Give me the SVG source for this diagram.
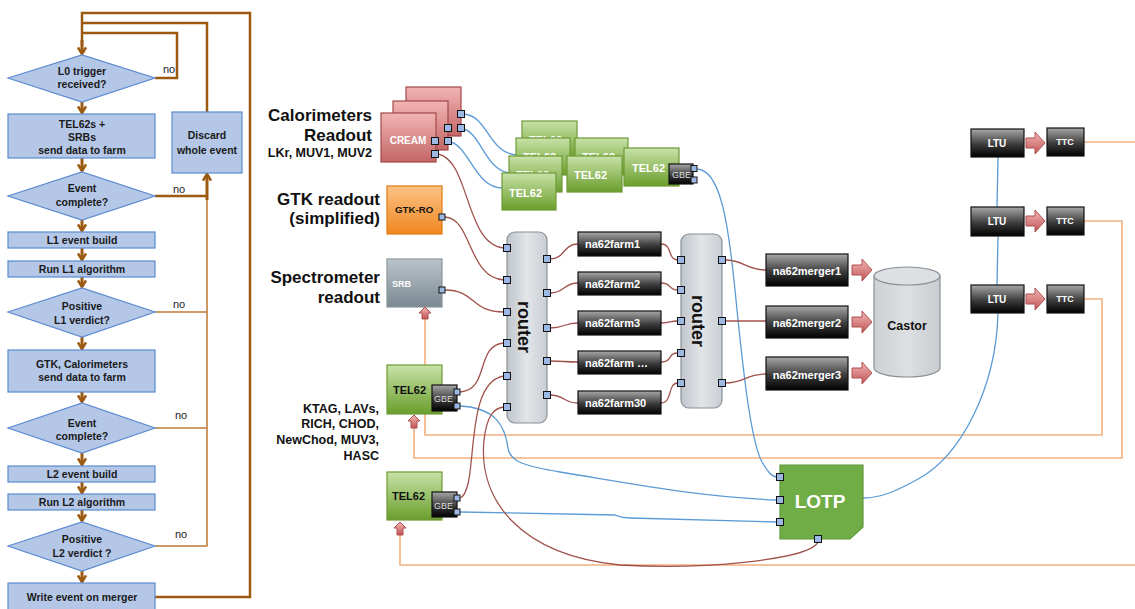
<svg xmlns="http://www.w3.org/2000/svg" width="1135" height="609" viewBox="0 0 1135 609">
<defs>
<style>
.fc{fill:#B4C7E7;stroke:#5B8BD0;stroke-width:1.2}
.ft{font-family:"Liberation Sans",Arial,sans-serif;font-weight:bold;font-size:10.5px;fill:#1a1a1a;text-anchor:middle}
.no{font-family:"Liberation Sans",Arial,sans-serif;font-size:11px;fill:#222}
.fl{fill:none;stroke:#9C5A10;stroke-width:2.5}
.fl2{fill:none;stroke:#BD7A35;stroke-width:1.5}
.fa{fill:none;stroke:#9C5A10;stroke-width:3;marker-end:url(#ah)}
.pt{fill:#9DB9E3;stroke:#111;stroke-width:1}
.rl{fill:none;stroke:#A0524C;stroke-width:1.3}
.bl{fill:none;stroke:#5B9BD5;stroke-width:1.3}
.ol{fill:none;stroke:#F2B07E;stroke-width:1.6}
.lbl{font-family:"Liberation Sans",Arial,sans-serif;font-weight:bold;font-size:17px;fill:#111;text-anchor:end}
.lbs{font-family:"Liberation Sans",Arial,sans-serif;font-weight:bold;font-size:12.5px;fill:#111;text-anchor:end}
.dk{fill:url(#gDark);stroke:#111;stroke-width:1.2}
.gr{fill:url(#gGreen);stroke:#6E9A35;stroke-width:1.2}
.cr{fill:url(#gRed);stroke:#A04848;stroke-width:1.2}
.wt{font-family:"Liberation Sans",Arial,sans-serif;font-weight:bold;fill:#fff}
.bt{font-family:"Liberation Sans",Arial,sans-serif;font-weight:bold;fill:#111}
.fat{fill:url(#gArrow);stroke:#B05050;stroke-width:1}
.rt{fill:url(#gRouter);stroke:#8A9096;stroke-width:1.2}
</style>
<linearGradient id="gDark" x1="0" y1="0" x2="0" y2="1"><stop offset="0" stop-color="#A8A8A8"/><stop offset="0.55" stop-color="#3C3C3C"/><stop offset="1" stop-color="#000"/></linearGradient>
<linearGradient id="gGreen" x1="0" y1="0" x2="0" y2="1"><stop offset="0" stop-color="#C8E2A8"/><stop offset="1" stop-color="#6A9E2C"/></linearGradient>
<linearGradient id="gRed" x1="0" y1="0" x2="0" y2="1"><stop offset="0" stop-color="#F2B4B4"/><stop offset="1" stop-color="#C46666"/></linearGradient>
<linearGradient id="gSrb" x1="0" y1="0" x2="0" y2="1"><stop offset="0" stop-color="#BAC4CA"/><stop offset="1" stop-color="#7C8992"/></linearGradient>
<linearGradient id="gGtk" x1="0" y1="0" x2="0" y2="1"><stop offset="0" stop-color="#FCC385"/><stop offset="1" stop-color="#F08620"/></linearGradient>
<linearGradient id="gRouter" x1="0" y1="0" x2="1" y2="0"><stop offset="0" stop-color="#BFC6CC"/><stop offset="0.5" stop-color="#E2E5E8"/><stop offset="1" stop-color="#C9CED3"/></linearGradient>
<linearGradient id="gArrow" x1="0" y1="0" x2="0" y2="1"><stop offset="0" stop-color="#F4B8B8"/><stop offset="1" stop-color="#C05555"/></linearGradient>
<linearGradient id="gCyl" x1="0" y1="0" x2="1" y2="0"><stop offset="0" stop-color="#CDD1D4"/><stop offset="0.5" stop-color="#DDE0E2"/><stop offset="1" stop-color="#C8CCD0"/></linearGradient>
<marker id="ah" viewBox="0 0 10 10" refX="8" refY="5" markerWidth="10" markerHeight="10" markerUnits="userSpaceOnUse" orient="auto"><path d="M1.5,1 L8,5 L1.5,9" fill="none" stroke="#9C5A10" stroke-width="2.5"/></marker>
</defs>
<rect width="1135" height="609" fill="#fff"/>

<!-- Flowchart connectors -->
<g id="flow-connectors">
<path class="fl" d="M155 597 H250 V13 H82 V45"/>
<path class="fa" d="M82 40 V54"/>
<path class="fl" d="M207 112 V23 H82"/>
<path class="fl" d="M155 78 H177 V33 H82"/>
<path class="fl" d="M155 196 H207"/>
<path class="fa" d="M207 200 V174"/>
<path class="fl2" d="M207 200 V546 H155"/>
<path class="fl2" d="M155 312 H207"/>
<path class="fl2" d="M155 428 H207"/>
<path class="fa" d="M82 102 V113"/>
<path class="fa" d="M82 158 V171"/>
<path class="fa" d="M82 220 V231"/>
<path class="fa" d="M82 248 V260"/>
<path class="fa" d="M82 277 V287"/>
<path class="fa" d="M82 337 V349"/>
<path class="fa" d="M82 392 V402"/>
<path class="fa" d="M82 453 V465"/>
<path class="fa" d="M82 482 V493"/>
<path class="fa" d="M82 510 V521"/>
<path class="fa" d="M82 571 V582"/>
<text class="no" x="163" y="73">no</text>
<text class="no" x="173" y="193">no</text>
<text class="no" x="173" y="308">no</text>
<text class="no" x="175" y="419">no</text>
<text class="no" x="175" y="538">no</text>
</g>

<g id="fc-l0"><polygon class="fc" points="8,78 82,55 155,78 82,102"/><text class="ft" x="82" y="75">L0 trigger</text><text class="ft" x="82" y="88">received?</text></g>
<g id="fc-send1"><rect class="fc" x="8" y="114" width="147" height="44"/><text class="ft" x="82" y="128">TEL62s +</text><text class="ft" x="82" y="141">SRBs</text><text class="ft" x="82" y="154">send data to farm</text></g>
<g id="fc-discard"><rect class="fc" x="172" y="112" width="70" height="61"/><text class="ft" x="207" y="139">Discard</text><text class="ft" x="207" y="154">whole event</text></g>
<g id="fc-complete1"><polygon class="fc" points="8,196 82,172 155,196 82,220"/><text class="ft" x="82" y="192">Event</text><text class="ft" x="82" y="206">complete?</text></g>
<g id="fc-l1build"><rect class="fc" x="8" y="232" width="147" height="16"/><text class="ft" x="82" y="244">L1 event build</text></g>
<g id="fc-l1run"><rect class="fc" x="8" y="261" width="147" height="16"/><text class="ft" x="82" y="273">Run L1 algorithm</text></g>
<g id="fc-l1verdict"><polygon class="fc" points="8,312 82,288 155,312 82,337"/><text class="ft" x="82" y="310">Positive</text><text class="ft" x="82" y="324">L1 verdict?</text></g>
<g id="fc-send2"><rect class="fc" x="8" y="350" width="147" height="42"/><text class="ft" x="82" y="368">GTK, Calorimeters</text><text class="ft" x="82" y="381">send data to farm</text></g>
<g id="fc-complete2"><polygon class="fc" points="8,428 82,403 155,428 82,453"/><text class="ft" x="82" y="427">Event</text><text class="ft" x="82" y="440">complete?</text></g>
<g id="fc-l2build"><rect class="fc" x="8" y="466" width="147" height="16"/><text class="ft" x="82" y="478">L2 event build</text></g>
<g id="fc-l2run"><rect class="fc" x="8" y="494" width="147" height="16"/><text class="ft" x="82" y="506">Run L2 algorithm</text></g>
<g id="fc-l2verdict"><polygon class="fc" points="8,546 82,522 155,546 82,571"/><text class="ft" x="82" y="543">Positive</text><text class="ft" x="82" y="557">L2 verdict ?</text></g>
<g id="fc-write"><rect class="fc" x="8" y="583" width="147" height="30"/><text class="ft" x="82" y="601">Write event on merger</text></g>

<!-- Labels -->
<g id="labels">
<text class="lbl" x="372" y="121">Calorimeters</text>
<text class="lbl" x="372" y="141">Readout</text>
<text class="lbs" x="372" y="157">LKr, MUV1, MUV2</text>
<text class="lbl" x="380" y="205">GTK readout</text>
<text class="lbl" x="380" y="224">(simplified)</text>
<text class="lbl" x="380" y="283">Spectrometer</text>
<text class="lbl" x="380" y="303">readout</text>
<text class="lbs" x="379" y="413">KTAG, LAVs,</text>
<text class="lbs" x="379" y="428">RICH, CHOD,</text>
<text class="lbs" x="379" y="444">NewChod, MUV3,</text>
<text class="lbs" x="379" y="460">HASC</text>
</g>

<!-- Connectors -->
<g id="connectors">
<path class="ol" d="M425 319 V435 H1102 V299 H1084"/>
<path class="ol" d="M414 428 V458 H1122 V221 H1084"/>
<path class="ol" d="M400 535 V565 H1135"/>
<path class="ol" d="M1084 142 H1135"/>
<path class="bl" d="M464 114 C488 116, 488 152, 516 155"/>
<path class="bl" d="M448 128 H461 C482 132, 484 170, 510 173"/>
<path class="bl" d="M435 141 H448 C470 145, 474 188, 503 188"/>
<path class="bl" d="M697 169 C720 170, 728 220, 735 290 C742 360, 750 440, 762 462 C768 472, 772 477, 777 477"/>
<path class="bl" d="M460 406 C495 408, 505 425, 508 448 C510 462, 525 466, 560 472 C640 485, 700 497, 777 500"/>
<path class="bl" d="M460 512 L615 515 C620 517, 622 518, 630 518 L777 522"/>
<path class="bl" d="M998 157 L997 207"/>
<path class="bl" d="M998 236 L997 285"/>
<path class="bl" d="M998 313 C996 390, 960 455, 920 478 C895 492, 880 498, 863 498"/>
<path class="rl" d="M438 154 C470 160, 465 245, 504 248"/>
<path class="rl" d="M445 217 C472 218, 468 278, 504 280"/>
<path class="rl" d="M445 290 C476 290, 470 312, 504 312"/>
<path class="rl" d="M460 392 C490 390, 475 345, 504 343"/>
<path class="rl" d="M460 498 C480 490, 462 382, 504 376"/>
<path class="rl" d="M818 542 C810 560, 700 570, 620 565 C520 555, 478 500, 484 440 C487 415, 494 408, 504 407"/>
<path class="rl" d="M550 259 C565 259, 563 244, 578 244"/>
<path class="rl" d="M550 293 C565 293, 563 283, 578 283"/>
<path class="rl" d="M550 328 C565 328, 563 323, 578 323"/>
<path class="rl" d="M550 361 C565 361, 563 362, 578 362"/>
<path class="rl" d="M550 395 C565 395, 563 403, 578 403"/>
<path class="rl" d="M661 244 C673 244, 667 260, 678 260"/>
<path class="rl" d="M661 283 C673 283, 667 290, 678 290"/>
<path class="rl" d="M661 323 C672 323, 668 321, 678 321"/>
<path class="rl" d="M661 362 C673 362, 667 353, 678 353"/>
<path class="rl" d="M661 403 C673 403, 667 383, 678 383"/>
<path class="rl" d="M725 260 C745 260, 745 270, 766 270"/>
<path class="rl" d="M725 321 H766"/>
<path class="rl" d="M725 383 C745 383, 745 374, 766 374"/>
</g>

<g id="cream">
<rect class="cr" x="406" y="87" width="55" height="49"/>
<rect class="cr" x="393" y="101" width="55" height="49"/>
<rect class="cr" x="381" y="113" width="55" height="49"/>
<text class="wt" x="408" y="144" font-size="10" text-anchor="middle">CREAM</text>
<rect class="pt" x="457.5" y="110.5" width="7" height="7"/>
<rect class="pt" x="457.5" y="124.5" width="7" height="7"/>
<rect class="pt" x="444.5" y="124.5" width="7" height="7"/>
<rect class="pt" x="444.5" y="137.5" width="7" height="7"/>
<rect class="pt" x="431.5" y="137.5" width="7" height="7"/>
<rect class="pt" x="431.5" y="150.5" width="7" height="7"/>
</g>

<g id="tel62-cluster">
<rect class="gr" x="522" y="121" width="55" height="37"/><text class="wt" x="529" y="144" font-size="11">TEL62</text>
<rect class="gr" x="516" y="138" width="54" height="37"/><text class="wt" x="523" y="161" font-size="11">TEL62</text>
<rect class="gr" x="575" y="138" width="53" height="37"/><text class="wt" x="582" y="161" font-size="11">TEL62</text>
<rect class="gr" x="509" y="156" width="53" height="36"/><text class="wt" x="516" y="179" font-size="11">TEL62</text>
<rect class="gr" x="502" y="173" width="54" height="37"/><text class="wt" x="509" y="197" font-size="11">TEL62</text>
<rect class="gr" x="567" y="156" width="55" height="36"/><text class="wt" x="574" y="179" font-size="11">TEL62</text>
<rect class="gr" x="624" y="148" width="55" height="38"/><text class="wt" x="632" y="172" font-size="11">TEL62</text>
<rect class="dk" x="669" y="164" width="24" height="20"/><text x="672" y="178" font-size="9" fill="#ddd" font-family="Liberation Sans, Arial, sans-serif">GBE</text>
<rect class="pt" x="691" y="165.5" width="6" height="6"/>
<rect class="pt" x="691" y="177" width="6" height="6"/>
</g>

<g id="gtk-ro">
<rect x="387" y="186" width="55" height="48" fill="url(#gGtk)" stroke="#E07A10" stroke-width="1.2"/>
<text class="bt" x="395" y="213" font-size="9.7" fill="#333">GTK-RO</text>
<rect class="pt" x="439" y="214" width="6" height="6"/>
</g>

<g id="srb">
<rect x="387" y="259" width="55" height="48" fill="url(#gSrb)" stroke="#8A969E" stroke-width="1.2"/>
<text class="wt" x="392" y="287" font-size="9">SRB</text>
<rect class="pt" x="439" y="287" width="6" height="6"/>
<path class="fat" d="M422 319 V313 H419 L425 307 L431 313 H428 V319 Z"/>
</g>

<g id="tel62-mid">
<rect class="gr" x="387" y="365" width="55" height="49"/>
<text class="bt" x="393" y="394" font-size="11">TEL62</text>
<rect class="dk" x="432" y="385" width="25" height="26"/>
<text x="434" y="402" font-size="9" fill="#ddd" font-family="Liberation Sans, Arial, sans-serif">GBE</text>
<rect class="pt" x="454" y="389" width="6" height="6"/>
<rect class="pt" x="454" y="403" width="6" height="6"/>
<path class="fat" d="M411 428 V421 H408 L414 415 L420 421 H417 V428 Z"/>
</g>

<g id="tel62-low">
<rect class="gr" x="387" y="472" width="55" height="48"/>
<text class="bt" x="392" y="500" font-size="11">TEL62</text>
<rect class="dk" x="432" y="492" width="25" height="25"/>
<text x="434" y="509" font-size="9" fill="#ddd" font-family="Liberation Sans, Arial, sans-serif">GBE</text>
<rect class="pt" x="454" y="495" width="6" height="6"/>
<rect class="pt" x="454" y="509" width="6" height="6"/>
<path class="fat" d="M397 535 V528 H394 L400 522 L406 528 H403 V535 Z"/>
</g>

<g id="router1">
<rect class="rt" x="507" y="232" width="40" height="191" rx="8"/>
<text class="bt" font-size="18" text-anchor="middle" transform="translate(518,327) rotate(90)">router</text>
<rect class="pt" x="503.5" y="244.5" width="7" height="7"/>
<rect class="pt" x="503.5" y="276.5" width="7" height="7"/>
<rect class="pt" x="503.5" y="308.5" width="7" height="7"/>
<rect class="pt" x="503.5" y="339.5" width="7" height="7"/>
<rect class="pt" x="503.5" y="372.5" width="7" height="7"/>
<rect class="pt" x="503.5" y="403.5" width="7" height="7"/>
<rect class="pt" x="543.5" y="255.5" width="7" height="7"/>
<rect class="pt" x="543.5" y="289.5" width="7" height="7"/>
<rect class="pt" x="543.5" y="324.5" width="7" height="7"/>
<rect class="pt" x="543.5" y="357.5" width="7" height="7"/>
<rect class="pt" x="543.5" y="391.5" width="7" height="7"/>
</g>

<g id="farms">
<rect class="dk" x="578" y="232" width="83" height="24"/><text class="wt" x="585" y="248" font-size="11">na62farm1</text>
<rect class="dk" x="578" y="272" width="83" height="23"/><text class="wt" x="585" y="288" font-size="11">na62farm2</text>
<rect class="dk" x="578" y="311" width="83" height="24"/><text class="wt" x="585" y="327" font-size="11">na62farm3</text>
<rect class="dk" x="578" y="351" width="83" height="23"/><text class="wt" x="585" y="367" font-size="11">na62farm …</text>
<rect class="dk" x="578" y="391" width="83" height="23"/><text class="wt" x="585" y="407" font-size="11">na62farm30</text>
</g>

<g id="router2">
<rect class="rt" x="681" y="234" width="41" height="174" rx="8"/>
<text class="bt" font-size="18" text-anchor="middle" transform="translate(692,321) rotate(90)">router</text>
<rect class="pt" x="677.5" y="256.5" width="7" height="7"/>
<rect class="pt" x="677.5" y="286.5" width="7" height="7"/>
<rect class="pt" x="677.5" y="317.5" width="7" height="7"/>
<rect class="pt" x="677.5" y="349.5" width="7" height="7"/>
<rect class="pt" x="677.5" y="379.5" width="7" height="7"/>
<rect class="pt" x="718.5" y="256.5" width="7" height="7"/>
<rect class="pt" x="718.5" y="317.5" width="7" height="7"/>
<rect class="pt" x="718.5" y="379.5" width="7" height="7"/>
</g>

<g id="mergers">
<rect class="dk" x="766" y="254" width="82" height="32"/><text class="wt" x="807" y="275" font-size="11" text-anchor="middle">na62merger1</text>
<rect class="dk" x="766" y="306" width="82" height="32"/><text class="wt" x="807" y="327" font-size="11" text-anchor="middle">na62merger2</text>
<rect class="dk" x="766" y="357" width="82" height="33"/><text class="wt" x="807" y="379" font-size="11" text-anchor="middle">na62merger3</text>
<path class="fat" d="M852 265 H862 V259 L872 270 L862 281 V275 H852 Z"/>
<path class="fat" d="M852 317 H862 V311 L872 322 L862 333 V327 H852 Z"/>
<path class="fat" d="M852 368 H862 V362 L872 373 L862 384 V378 H852 Z"/>
</g>

<g id="castor">
<path d="M874 276 V368 A33 9 0 0 0 940 368 V276 Z" fill="url(#gCyl)" stroke="#8A9096" stroke-width="1.2"/>
<ellipse cx="907" cy="276" rx="33" ry="9" fill="#DDE0E2" stroke="#8A9096" stroke-width="1.2"/>
<text class="bt" x="907" y="330" font-size="12.5" text-anchor="middle">Castor</text>
</g>

<g id="lotp">
<path d="M780 465 H863 V527 L850 539 H780 Z" fill="#70AD47" stroke="#5E9A38" stroke-width="1.2"/>
<text class="wt" x="820" y="508" font-size="19" text-anchor="middle">LOTP</text>
<rect class="pt" x="776.5" y="473.5" width="7" height="7"/>
<rect class="pt" x="776.5" y="496.5" width="7" height="7"/>
<rect class="pt" x="776.5" y="518.5" width="7" height="7"/>
<rect class="pt" x="814.5" y="535.5" width="7" height="7"/>
</g>

<g id="ltu-ttc">
<rect class="dk" x="971" y="129" width="53" height="28"/><text class="wt" x="997" y="147" font-size="10" text-anchor="middle">LTU</text>
<rect class="dk" x="971" y="207" width="53" height="29"/><text class="wt" x="997" y="225" font-size="10" text-anchor="middle">LTU</text>
<rect class="dk" x="971" y="285" width="53" height="28"/><text class="wt" x="997" y="303" font-size="10" text-anchor="middle">LTU</text>
<rect class="dk" x="1047" y="128" width="37" height="28"/><text class="wt" x="1065" y="145" font-size="9" text-anchor="middle">TTC</text>
<rect class="dk" x="1047" y="207" width="37" height="28"/><text class="wt" x="1065" y="224" font-size="9" text-anchor="middle">TTC</text>
<rect class="dk" x="1047" y="285" width="37" height="28"/><text class="wt" x="1065" y="302" font-size="9" text-anchor="middle">TTC</text>
<path class="fat" d="M1026 138 H1035 V132 L1045 143 L1035 154 V148 H1026 Z"/>
<path class="fat" d="M1026 216 H1035 V210 L1045 221 L1035 232 V226 H1026 Z"/>
<path class="fat" d="M1026 294 H1035 V288 L1045 299 L1035 310 V304 H1026 Z"/>
</g>
</svg>
